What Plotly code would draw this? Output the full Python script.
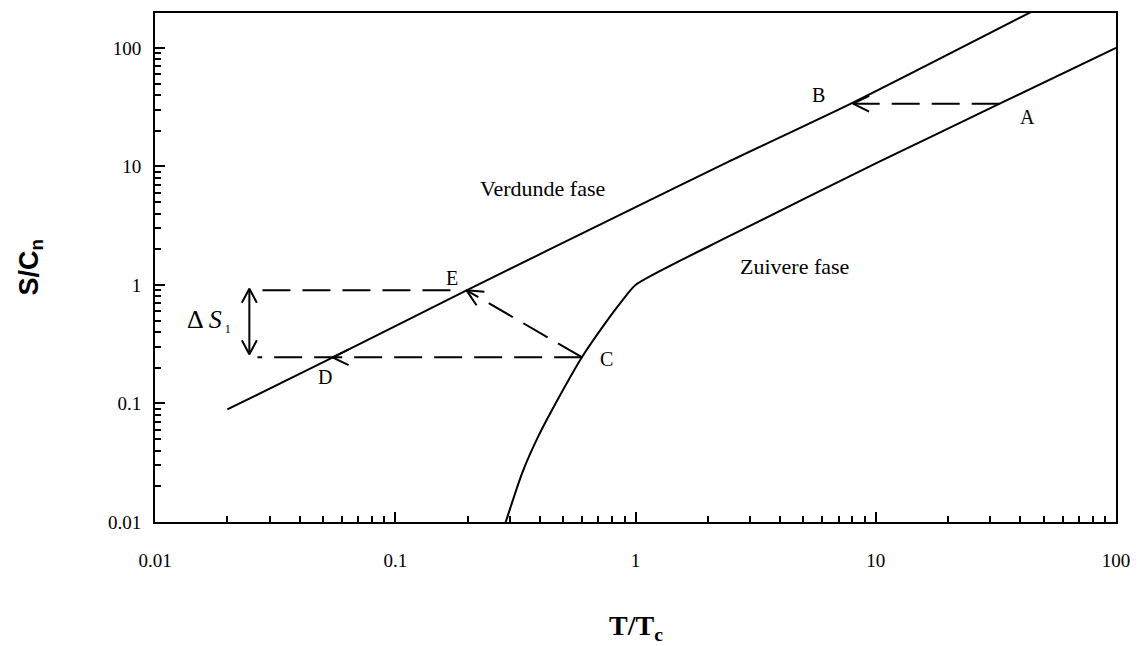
import math
import plotly.graph_objects as go

# --- entropy curves (S/Cn versus T/Tc) ---
T_normal = [0.02, 0.055, 0.198, 0.94, 2.43, 8.04, 45.0]
S_normal = [0.089, 0.245, 0.90, 4.25, 10.9, 34.5, 204.0]

T_super = [0.286, 0.338, 0.396, 0.466, 0.60, 0.75, 0.879, 1.0, 2.43, 10.2, 32.8, 100.0]
S_super = [0.0095, 0.0261, 0.054, 0.101, 0.248, 0.479, 0.734, 1.0, 2.55, 10.8, 33.8, 100.0]

# --- process points ---
point_names = ["A", "B", "C", "D", "E"]
point_T = [32.8, 8.04, 0.60, 0.0548, 0.198]
point_S = [33.8, 33.8, 0.245, 0.245, 0.90]
# label offsets in pixels (x right, y up)
label_dx = [28, -34, 24, -7, -15]
label_dy = [-13, 9, -2, -20, 12]

# extra dashed guide extents
guide_D_left = 0.0267
guide_E_left, guide_E_right = 0.028, 0.172
bracket_T = 0.0247
bracket_S = [0.26, 0.93]

x_ticks = [0.01, 0.1, 1, 10, 100]
x_ticktext = ["0.01", "0.1", "1", "10", "100"]
y_ticks = [0.01, 0.1, 1, 10, 100]
y_ticktext = ["0.01", "0.1", "1", "10", "100"]

W, H = 1141, 646
ML, MR, MT, MB = 155, 22, 11, 124
XR = [-2, 2]
YR = [-2, 2.294]
px_per_dec_x = (W - ML - MR) / (XR[1] - XR[0])
px_per_dec_y = (H - MT - MB) / (YR[1] - YR[0])

P = dict(zip(point_names, zip(point_T, point_S)))

fig = go.Figure()

line_style = dict(color="black", width=2)
curve_style = dict(color="black", width=2, shape="spline", smoothing=0.6)
dash_style = dict(color="black", width=2, dash="28px,12px")


def add_line(xs, ys, style):
    fig.add_trace(go.Scatter(x=xs, y=ys, mode="lines", line=style,
                             hoverinfo="skip", showlegend=False))


def add_chevron(tip, frm, length=18, half_angle=26):
    """Open arrowhead at `tip`, pointing away from `frm` (data coords)."""
    dx = (math.log10(tip[0]) - math.log10(frm[0])) * px_per_dec_x
    dy = (math.log10(tip[1]) - math.log10(frm[1])) * px_per_dec_y
    ang = math.atan2(dy, dx)
    xs, ys = [], []
    for sgn in (1, -1):
        a = ang + math.pi + sgn * math.radians(half_angle)
        bx = math.log10(tip[0]) + length * math.cos(a) / px_per_dec_x
        by = math.log10(tip[1]) + length * math.sin(a) / px_per_dec_y
        xs.append(10 ** bx)
        ys.append(10 ** by)
    add_line([xs[0], tip[0], xs[1]], [ys[0], tip[1], ys[1]], line_style)


# phase curves
add_line(T_normal, S_normal, curve_style)
add_line(T_super, S_super, curve_style)

# A -> B (dashed, arrow at B)
add_line([P["A"][0], P["B"][0]], [P["A"][1], P["B"][1]], dash_style)
add_chevron(P["B"], P["A"])

# C -> D (dashed, arrow at D), guide continues to the left
add_line([P["C"][0], guide_D_left], [P["C"][1], P["D"][1]], dash_style)
add_chevron(P["D"], P["C"])

# C -> E (dashed, arrow at E)
add_line([P["C"][0], P["E"][0]], [P["C"][1], P["E"][1]], dash_style)
add_chevron(P["E"], P["C"])

# horizontal guide at level E
add_line([guide_E_left, guide_E_right], [P["E"][1], P["E"][1]], dash_style)

# double arrow for the entropy jump
add_line([bracket_T, bracket_T], bracket_S, line_style)
add_chevron((bracket_T, bracket_S[1]), (bracket_T, bracket_S[0]), length=16, half_angle=28)
add_chevron((bracket_T, bracket_S[0]), (bracket_T, bracket_S[1]), length=16, half_angle=28)

serif = "Liberation Serif, Times New Roman, serif"
annotations = []
for name, dxp, dyp in zip(point_names, label_dx, label_dy):
    t, s = P[name]
    annotations.append(dict(x=math.log10(t), y=math.log10(s), xref="x", yref="y",
                            text=name, showarrow=False, xshift=dxp, yshift=dyp,
                            font=dict(family=serif, size=20, color="black")))

annotations += [
    dict(x=math.log10(0.412), y=math.log10(6.5), xref="x", yref="y",
         text="Verdunde fase", showarrow=False,
         font=dict(family=serif, size=22, color="black")),
    dict(x=math.log10(4.57), y=math.log10(1.44), xref="x", yref="y",
         text="Zuivere fase", showarrow=False,
         font=dict(family=serif, size=22, color="black")),
    dict(x=math.log10(0.0168), y=math.log10(0.5), xref="x", yref="y",
         text="Δ <i>S</i><sub><span style='font-size:12px'> 1</span></sub>", showarrow=False,
         font=dict(family=serif, size=26, color="black")),
    dict(x=0.5, y=-0.207, xref="paper", yref="paper", yanchor="middle", xanchor="center",
         text="<b>T/T<sub>c</sub></b>", showarrow=False,
         font=dict(family=serif, size=28, color="black")),
    dict(x=-0.13, y=0.5, xref="paper", yref="paper", xanchor="center", yanchor="middle",
         textangle=-90,
         text="<b>S/C<sub>n</sub></b>", showarrow=False,
         font=dict(family="Liberation Sans, Arial, sans-serif", size=27, color="black")),
]

minor_vals = [m * 10 ** e for e in range(-2, 2) for m in range(2, 10)]

axis_common = dict(
    type="log", showgrid=False, zeroline=False,
    showline=True, linecolor="black", linewidth=2, mirror=True,
    ticks="inside", ticklen=10, tickwidth=1.5, tickcolor="black",
    tickfont=dict(family=serif, size=19, color="black"),
)

fig.update_layout(
    width=W, height=H,
    margin=dict(l=ML, r=MR, t=MT, b=MB),
    paper_bgcolor="white", plot_bgcolor="white",
    showlegend=False,
    annotations=annotations,
    xaxis=dict(range=XR, tickvals=x_ticks, ticktext=x_ticktext,
               ticklabelstandoff=20,
               minor=dict(ticks="inside", ticklen=6, tickwidth=1.5, tickcolor="black",
                          tickvals=minor_vals, showgrid=False),
               **axis_common),
    yaxis=dict(range=YR, tickvals=y_ticks, ticktext=y_ticktext,
               ticklabelstandoff=8,
               minor=dict(ticks="inside", ticklen=6, tickwidth=1.5, tickcolor="black",
                          tickvals=minor_vals + [200], showgrid=False),
               **axis_common),
)

fig.write_html("out.html")
